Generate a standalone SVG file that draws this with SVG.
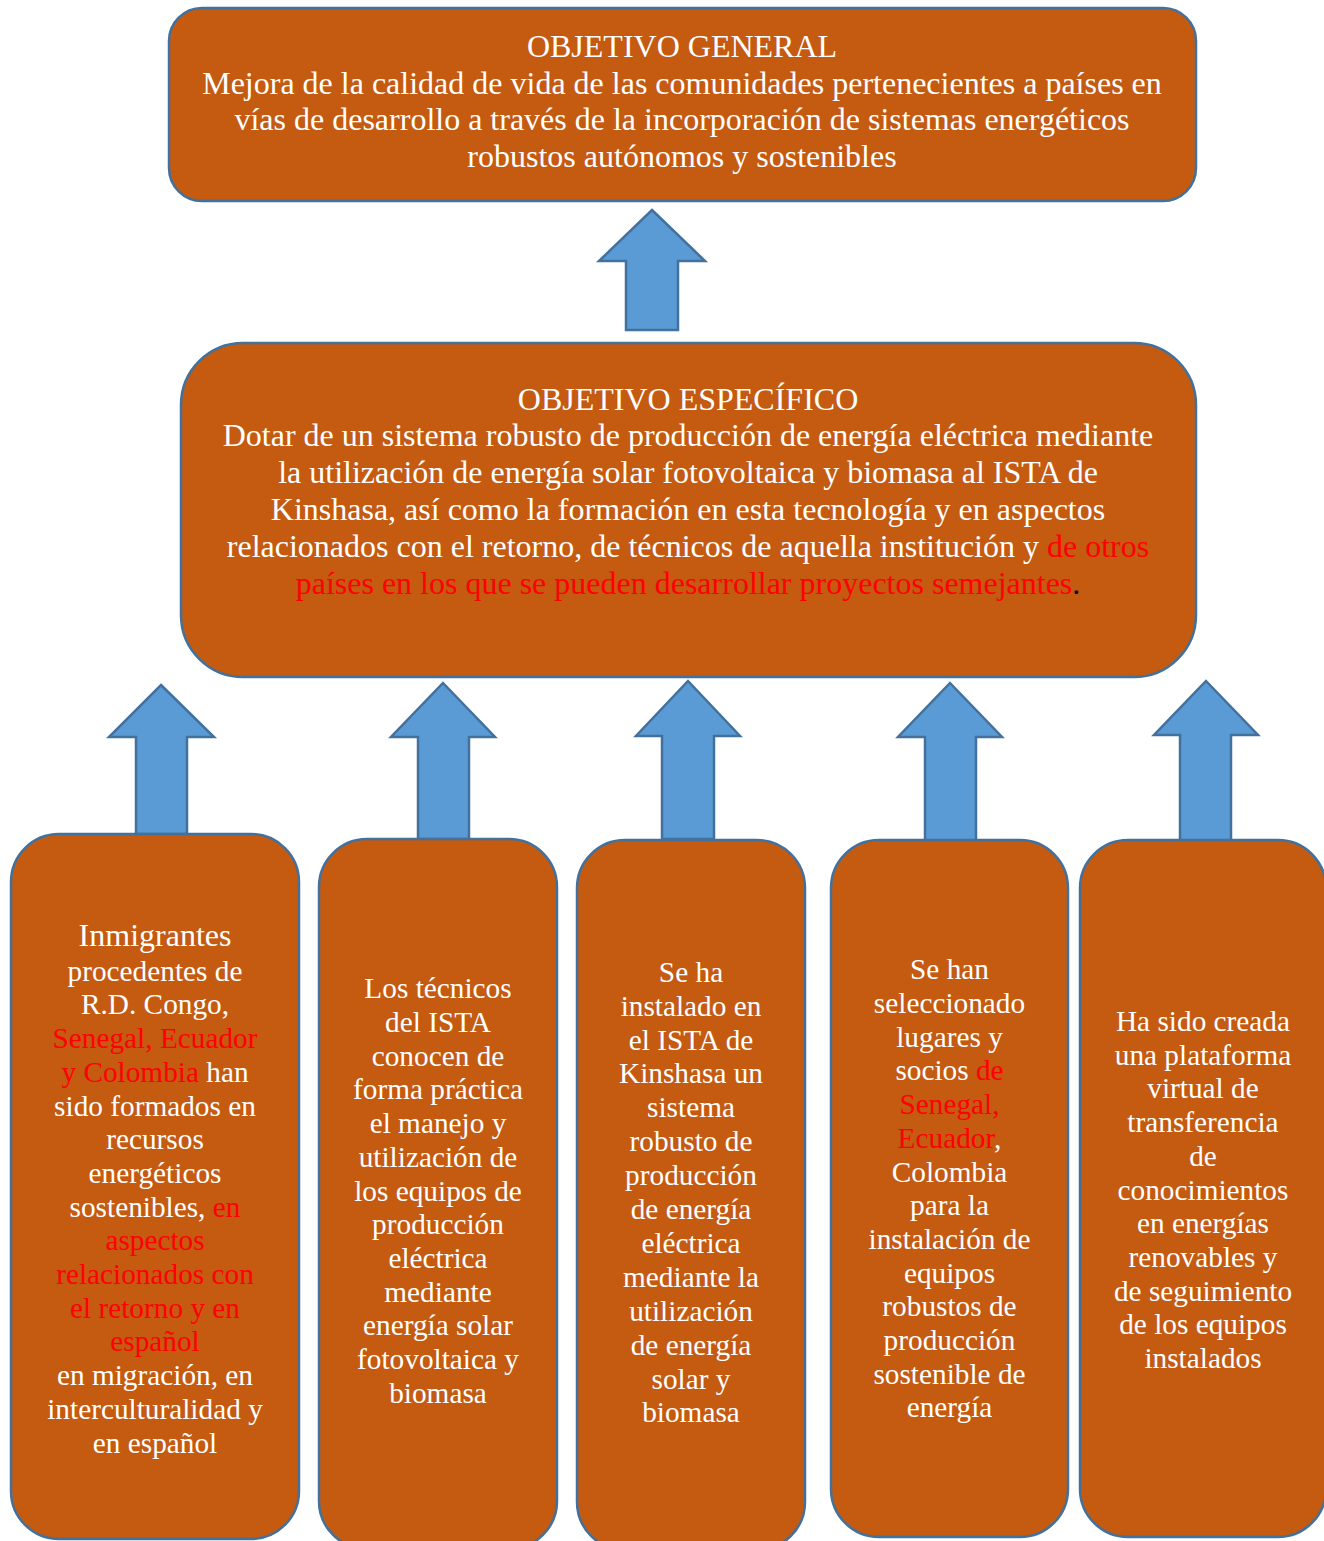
<svg xmlns="http://www.w3.org/2000/svg" width="1324" height="1541" viewBox="0 0 1324 1541">
<style>
.box{fill:#C55A11;stroke:#41719C;stroke-width:2.5}
.arr{fill:#5B9BD5;stroke:#41719C;stroke-width:2.5;stroke-linejoin:miter}
text{font-family:"Liberation Serif","Times New Roman",serif;fill:#FFFFFF;text-anchor:middle}
.big{font-size:32px}
.sm{font-size:29.3px}
.r{fill:#FF0000}
.k{fill:#000000}
</style>
<rect width="1324" height="1541" fill="#FFFFFF"/>
<g id="connectors">
<polygon class="arr" points="652,210 705,261 678,261 678,330 626,330 626,261 599,261"/>
<polygon class="arr" points="161,685 214,737 187,737 187,834 136,834 136,737 109,737"/>
<polygon class="arr" points="443,683 495,737 469,737 469,839 418,839 418,737 391,737"/>
<polygon class="arr" points="688,681 740,736 714,736 714,839 662,839 662,736 636,736"/>
<polygon class="arr" points="950,683 1002,737 976,737 976,841 925,841 925,737 898,737"/>
<polygon class="arr" points="1206,681 1258,735 1231,735 1231,841 1180,841 1180,735 1154,735"/>
</g>
<g id="general">
<rect class="box" x="169" y="8" width="1027" height="193" rx="33"/>
<text class="big" x="682" y="57">OBJETIVO GENERAL</text>
<text class="big" x="682" y="93.5">Mejora de la calidad de vida de las comunidades pertenecientes a países en</text>
<text class="big" x="682" y="130">vías de desarrollo a través de la incorporación de sistemas energéticos</text>
<text class="big" x="682" y="166.7">robustos autónomos y sostenibles</text>
</g>
<g id="especifico">
<rect class="box" x="181" y="343" width="1015" height="334" rx="62"/>
<text class="big" x="688" y="409.5">OBJETIVO ESPECÍFICO</text>
<text class="big" x="688" y="446">Dotar de un sistema robusto de producción de energía eléctrica mediante</text>
<text class="big" x="688" y="483">la utilización de energía solar fotovoltaica y biomasa al ISTA de</text>
<text class="big" x="688" y="520">Kinshasa, así como la formación en esta tecnología y en aspectos</text>
<text class="big" x="688" y="556.7">relacionados con el retorno, de técnicos de aquella institución y <tspan class="r">de otros</tspan></text>
<text class="big" x="688" y="593.5"><tspan class="r">países en los que se pueden desarrollar proyectos semejantes</tspan><tspan class="k">.</tspan></text>
</g>
<g id="resultado1">
<rect class="box" x="11" y="834" width="288" height="705" rx="48"/>
<text class="big" x="155" y="946">Inmigrantes</text>
<text class="sm" x="155" y="980.7">procedentes de</text>
<text class="sm" x="155" y="1014.4">R.D. Congo,</text>
<text class="sm" x="155" y="1048.1"><tspan class="r">Senegal, Ecuador</tspan></text>
<text class="sm" x="155" y="1081.8"><tspan class="r">y Colombia</tspan> han</text>
<text class="sm" x="155" y="1115.5">sido formados en</text>
<text class="sm" x="155" y="1149.2">recursos</text>
<text class="sm" x="155" y="1182.9">energéticos</text>
<text class="sm" x="155" y="1216.6">sostenibles, <tspan class="r">en</tspan></text>
<text class="sm r" x="155" y="1250.3">aspectos</text>
<text class="sm r" x="155" y="1284">relacionados con</text>
<text class="sm r" x="155" y="1317.7">el retorno y en</text>
<text class="sm r" x="155" y="1351.4">español</text>
<text class="sm" x="155" y="1385.1">en migración, en</text>
<text class="sm" x="155" y="1418.8">interculturalidad y</text>
<text class="sm" x="155" y="1452.5">en español</text>
</g>
<g id="resultado2">
<rect class="box" x="319" y="839" width="238" height="710" rx="48"/>
<text class="sm" x="438" y="998.3">Los técnicos</text>
<text class="sm" x="438" y="1032">del ISTA</text>
<text class="sm" x="438" y="1065.7">conocen de</text>
<text class="sm" x="438" y="1099.4">forma práctica</text>
<text class="sm" x="438" y="1133.1">el manejo y</text>
<text class="sm" x="438" y="1166.8">utilización de</text>
<text class="sm" x="438" y="1200.5">los equipos de</text>
<text class="sm" x="438" y="1234.2">producción</text>
<text class="sm" x="438" y="1267.9">eléctrica</text>
<text class="sm" x="438" y="1301.6">mediante</text>
<text class="sm" x="438" y="1335.3">energía solar</text>
<text class="sm" x="438" y="1369">fotovoltaica y</text>
<text class="sm" x="438" y="1402.7">biomasa</text>
</g>
<g id="resultado3">
<rect class="box" x="577" y="840" width="228" height="710" rx="48"/>
<text class="sm" x="691" y="981.7">Se ha</text>
<text class="sm" x="691" y="1015.6">instalado en</text>
<text class="sm" x="691" y="1049.5">el ISTA de</text>
<text class="sm" x="691" y="1083.4">Kinshasa un</text>
<text class="sm" x="691" y="1117.3">sistema</text>
<text class="sm" x="691" y="1151.2">robusto de</text>
<text class="sm" x="691" y="1185.1">producción</text>
<text class="sm" x="691" y="1219">de energía</text>
<text class="sm" x="691" y="1252.9">eléctrica</text>
<text class="sm" x="691" y="1286.8">mediante la</text>
<text class="sm" x="691" y="1320.7">utilización</text>
<text class="sm" x="691" y="1354.6">de energía</text>
<text class="sm" x="691" y="1388.5">solar y</text>
<text class="sm" x="691" y="1422.4">biomasa</text>
</g>
<g id="resultado4">
<rect class="box" x="831" y="840" width="237" height="697" rx="48"/>
<text class="sm" x="949.5" y="979.3">Se han</text>
<text class="sm" x="949.5" y="1013">seleccionado</text>
<text class="sm" x="949.5" y="1046.7">lugares y</text>
<text class="sm" x="949.5" y="1080.4">socios <tspan class="r">de</tspan></text>
<text class="sm r" x="949.5" y="1114.1">Senegal,</text>
<text class="sm" x="949.5" y="1147.8"><tspan class="r">Ecuador</tspan>,</text>
<text class="sm" x="949.5" y="1181.5">Colombia</text>
<text class="sm" x="949.5" y="1215.2">para la</text>
<text class="sm" x="949.5" y="1248.9">instalación de</text>
<text class="sm" x="949.5" y="1282.6">equipos</text>
<text class="sm" x="949.5" y="1316.3">robustos de</text>
<text class="sm" x="949.5" y="1350">producción</text>
<text class="sm" x="949.5" y="1383.7">sostenible de</text>
<text class="sm" x="949.5" y="1417.4">energía</text>
</g>
<g id="resultado5">
<rect class="box" x="1080" y="840" width="246" height="697" rx="48"/>
<text class="sm" x="1203" y="1031">Ha sido creada</text>
<text class="sm" x="1203" y="1064.7">una plataforma</text>
<text class="sm" x="1203" y="1098.4">virtual de</text>
<text class="sm" x="1203" y="1132.1">transferencia</text>
<text class="sm" x="1203" y="1165.8">de</text>
<text class="sm" x="1203" y="1199.5">conocimientos</text>
<text class="sm" x="1203" y="1233.2">en energías</text>
<text class="sm" x="1203" y="1266.9">renovables y</text>
<text class="sm" x="1203" y="1300.6">de seguimiento</text>
<text class="sm" x="1203" y="1334.3">de los equipos</text>
<text class="sm" x="1203" y="1368">instalados</text>
</g>
</svg>
